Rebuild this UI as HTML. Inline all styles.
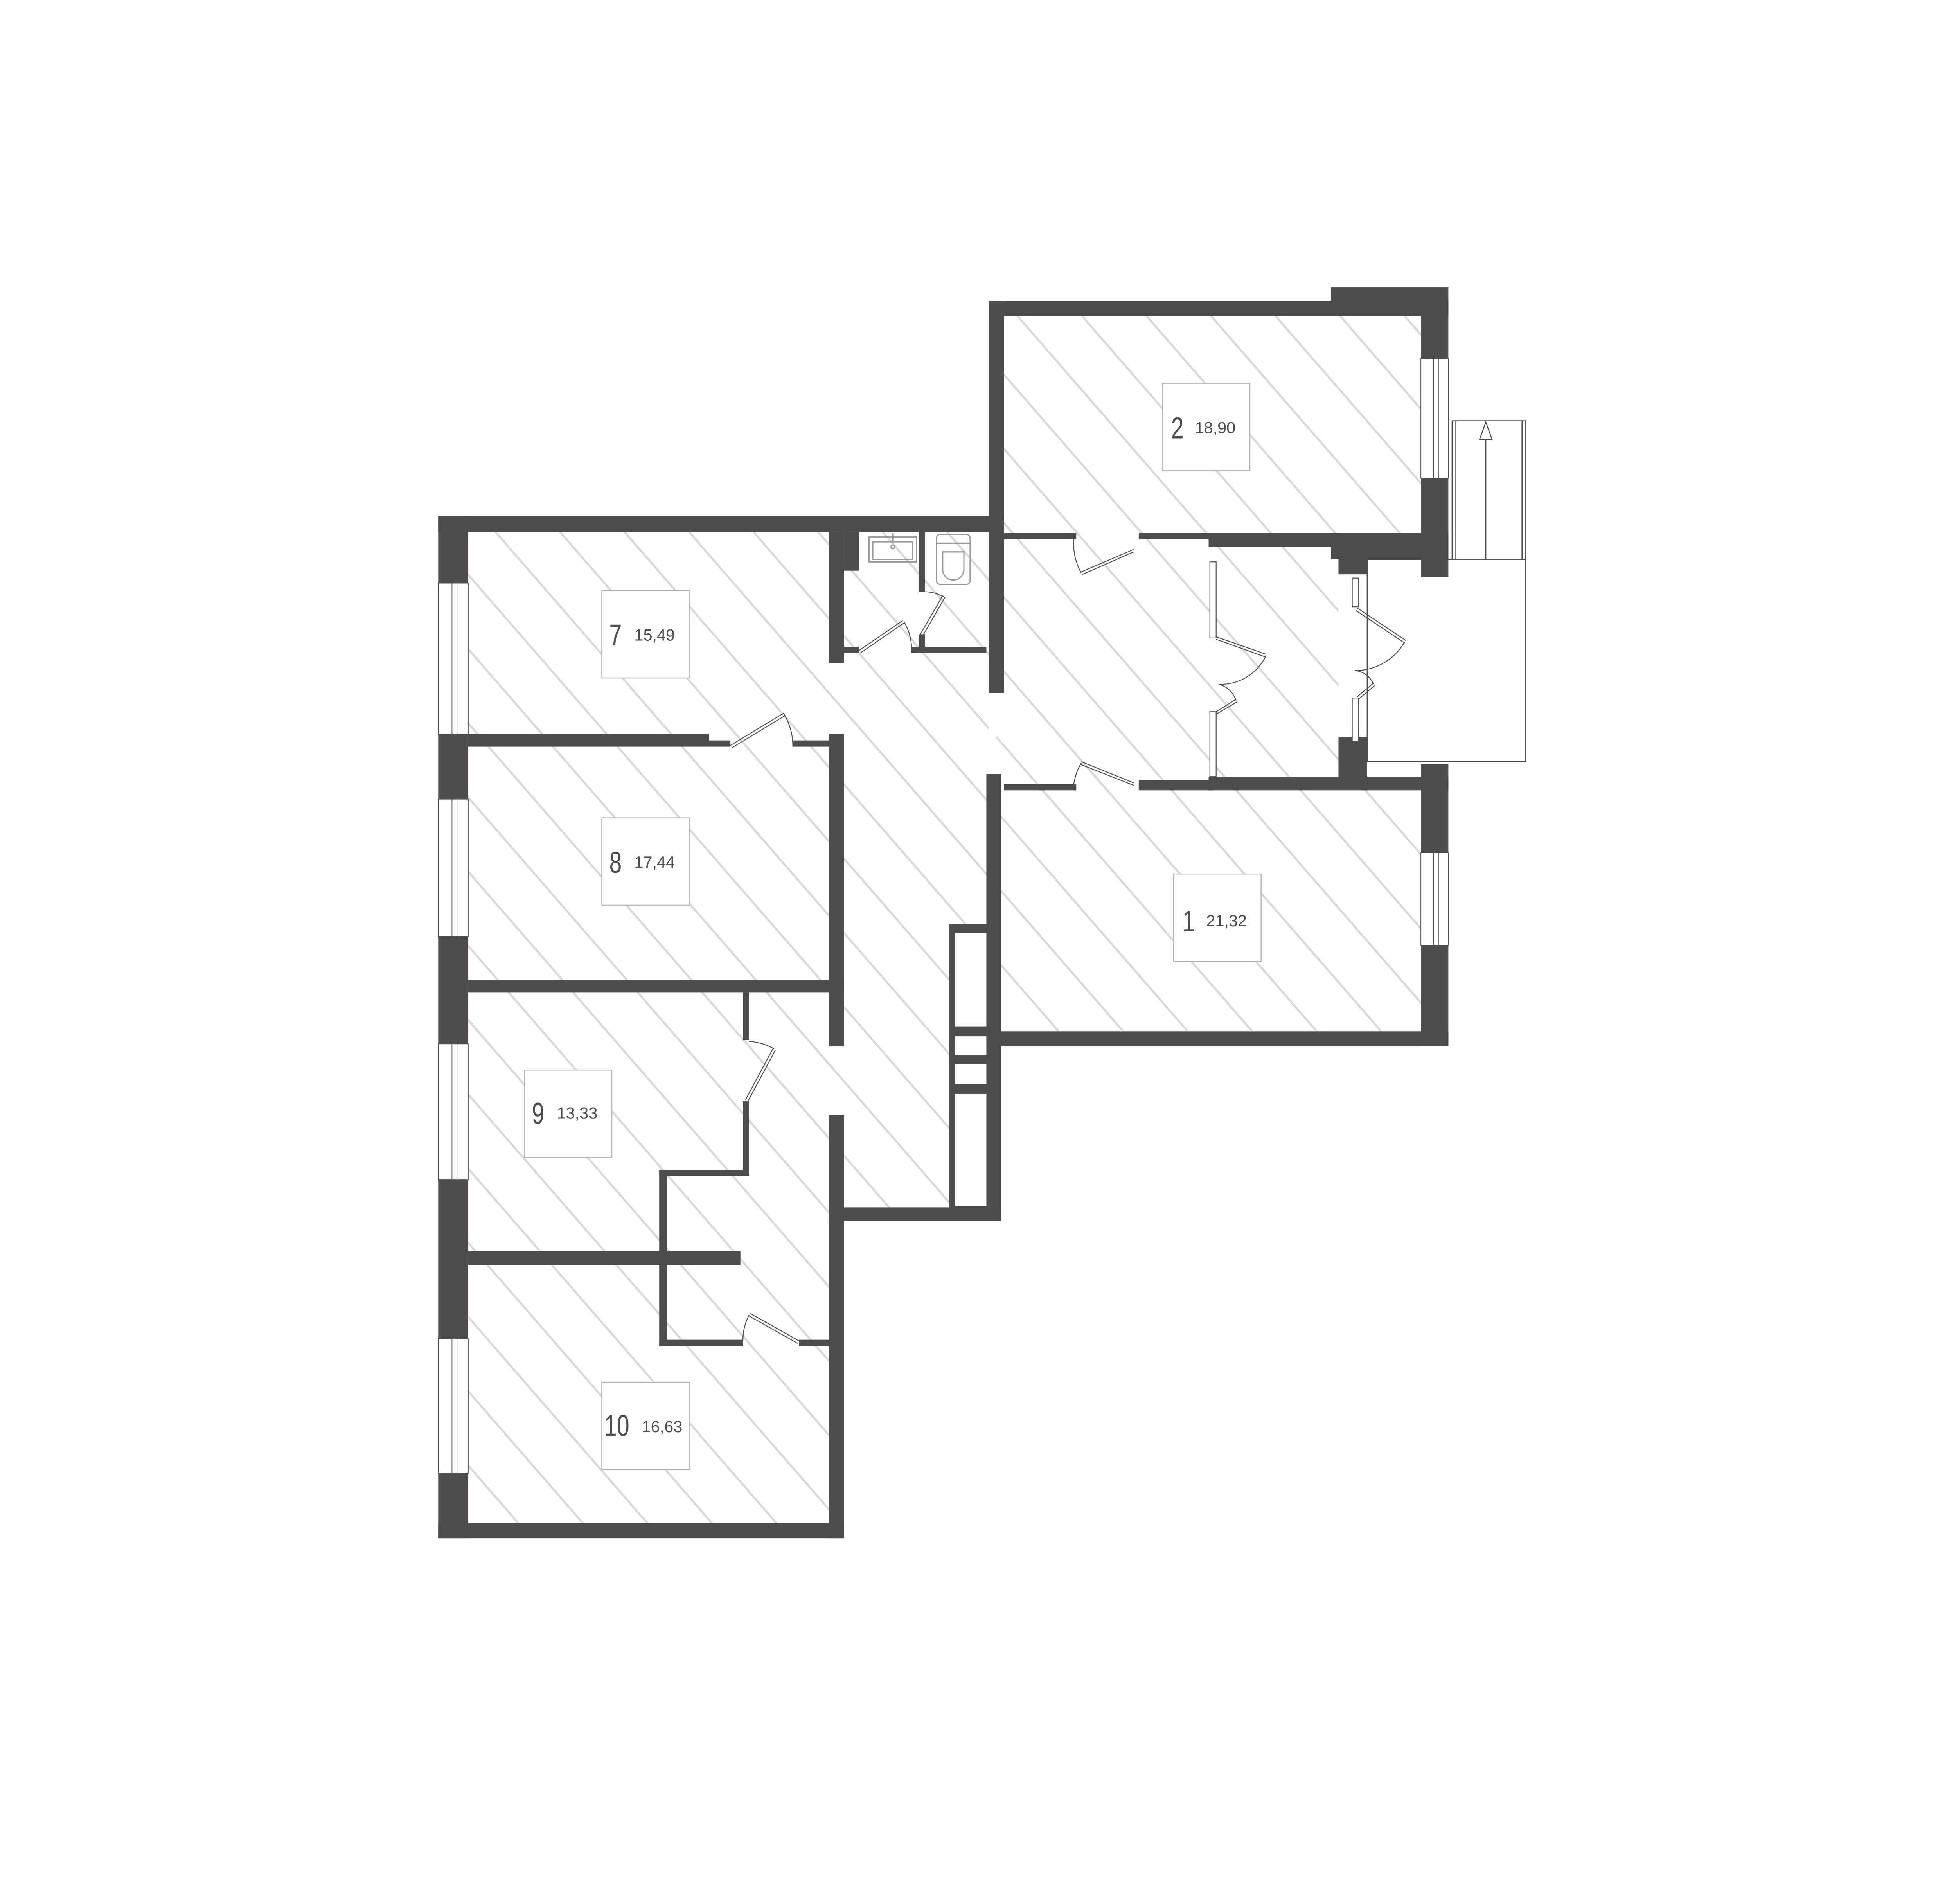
<!DOCTYPE html>
<html><head><meta charset="utf-8"><style>
html,body{margin:0;padding:0;background:#fff;}
svg{display:block;}
text{font-family:"Liberation Sans",sans-serif;fill:#4d4c4a;}
</style></head><body>
<svg width="5213" height="4867" viewBox="0 0 1633.3 1524.9" preserveAspectRatio="none" xmlns="http://www.w3.org/2000/svg">
<defs>
<pattern id="h" patternUnits="userSpaceOnUse" width="60" height="39" patternTransform="rotate(49)">
<line x1="0" y1="19" x2="60" y2="19" stroke="#d9d9d9" stroke-width="1.7"/>
</pattern>
<clipPath id="c">
<rect x="375" y="426" width="289" height="794"/>
<rect x="664" y="426" width="128" height="541"/>
<rect x="798" y="253" width="340" height="185"/>
<rect x="798" y="438" width="274" height="190"/>
<rect x="798" y="628" width="340" height="198"/>
</clipPath>
</defs>
<rect width="1633.3" height="1524.9" fill="#fff"/>
<rect x="0" y="0" width="1633.3" height="1524.9" fill="url(#h)" clip-path="url(#c)"/>

<g fill="none" stroke="#4d4c4a" stroke-width="0.8">
<rect x="1163" y="337" width="59" height="111"/>
<line x1="1166" y1="337" x2="1166" y2="448"/>
<line x1="1219" y1="337" x2="1219" y2="448"/>
<line x1="1190" y1="448" x2="1190" y2="352"/>
<polygon points="1185,352 1195,352 1190,338" fill="#fff"/>
<rect x="1095" y="448" width="127" height="162"/>
</g>

<g fill="#4d4c4a">
<rect x="351" y="413" width="453" height="13"/>
<rect x="351" y="413" width="24" height="54"/>
<rect x="351" y="588" width="24" height="52"/>
<rect x="351" y="750" width="24" height="86"/>
<rect x="351" y="945" width="24" height="127"/>
<rect x="351" y="1180" width="24" height="52"/>
<rect x="351" y="1220" width="325" height="12"/>
<rect x="664" y="893" width="12" height="339"/>
<rect x="664" y="967" width="138" height="11"/>
<rect x="790" y="620" width="12" height="358"/>
<rect x="375" y="588" width="193" height="10"/>
<rect x="568" y="593" width="17" height="5"/>
<rect x="635" y="593" width="29" height="5"/>
<rect x="664" y="588" width="12" height="250"/>
<rect x="375" y="785" width="301" height="10"/>
<rect x="595" y="795" width="5" height="38"/>
<rect x="595" y="882" width="5" height="60"/>
<rect x="528" y="937" width="72" height="5"/>
<rect x="528" y="937" width="6" height="141"/>
<rect x="528" y="1073" width="67" height="5"/>
<rect x="640" y="1073" width="24" height="5"/>
<rect x="375" y="1002" width="218" height="11"/>
<rect x="664" y="426" width="12" height="105"/>
<rect x="676" y="426" width="12" height="31"/>
<rect x="676" y="453" width="12" height="4"/>
<rect x="676" y="518" width="12" height="5"/>
<rect x="730" y="518" width="60" height="5"/>
<rect x="736" y="426" width="5" height="48"/>
<rect x="736" y="508" width="5" height="15"/>
<rect x="792" y="241" width="12" height="314"/>
<rect x="792" y="241" width="368" height="12"/>
<rect x="1066" y="230" width="94" height="12"/>
<rect x="1138" y="241" width="22" height="46"/>
<rect x="1138" y="383" width="22" height="79"/>
<rect x="804" y="427" width="58" height="5"/>
<rect x="912" y="427" width="56" height="5"/>
<rect x="968" y="427" width="104" height="11"/>
<rect x="1066" y="427" width="94" height="21"/>
<rect x="1072" y="437" width="23" height="23"/>
<rect x="1072" y="590" width="23" height="36"/>
<rect x="968" y="622" width="192" height="11"/>
<rect x="804" y="628" width="58" height="5"/>
<rect x="912" y="625" width="60" height="8"/>
<rect x="1138" y="612" width="22" height="71"/>
<rect x="1138" y="757" width="22" height="81"/>
<rect x="790" y="826" width="370" height="12"/>
<rect x="760" y="740" width="32" height="238"/>
</g>
<g fill="#fff">
<rect x="765" y="747" width="25" height="75"/>
<rect x="765" y="830" width="25" height="15"/>
<rect x="765" y="852" width="25" height="16"/>
<rect x="765" y="876" width="25" height="90"/>
</g>

<g fill="#fff" stroke="#4d4c4a" stroke-width="0.6">
<rect x="351" y="467" width="24" height="121"/>
<rect x="351" y="640" width="24" height="110"/>
<rect x="351" y="836" width="24" height="109"/>
<rect x="351" y="1072" width="24" height="108"/>
<rect x="1138" y="287" width="22" height="96"/>
<rect x="1138" y="683" width="22" height="74"/>
</g>
<g stroke="#4d4c4a" stroke-width="0.6">
<line x1="362" y1="467" x2="362" y2="588"/><line x1="366" y1="467" x2="366" y2="588"/>
<line x1="362" y1="640" x2="362" y2="750"/><line x1="366" y1="640" x2="366" y2="750"/>
<line x1="362" y1="836" x2="362" y2="945"/><line x1="366" y1="836" x2="366" y2="945"/>
<line x1="362" y1="1072" x2="362" y2="1180"/><line x1="366" y1="1072" x2="366" y2="1180"/>
<line x1="1148" y1="287" x2="1148" y2="383"/><line x1="1152" y1="287" x2="1152" y2="383"/>
<line x1="1148" y1="683" x2="1148" y2="757"/><line x1="1152" y1="683" x2="1152" y2="757"/>
</g>

<g fill="#fff" stroke="#4d4c4a" stroke-width="0.7">
<rect x="969" y="450" width="5" height="61"/>
<rect x="969" y="570" width="5" height="52"/>
<rect x="1083" y="463" width="5" height="23"/>
<rect x="1083" y="559" width="5" height="35"/>
</g>

<g fill="none" stroke="#4d4c4a" stroke-width="0.7">
<path d="M585,597 L628,571 M586,599 L629,573"/><path d="M628,572 A50,50 0 0 1 635,598"/>
<path d="M688,521 L723,497 M689,523 L724,499"/><path d="M724,498 A42,42 0 0 1 730,522"/>
<path d="M736,510 L755,477 M738,511 L757,478"/><path d="M756,478 A34,34 0 0 0 737,474"/>
<path d="M908,440 L866,458 M908,442 L867,460"/><path d="M866,459 A48,48 0 0 1 860,432"/>
<path d="M908,627 L866,610 M908,629 L865,612"/><path d="M866,611 A48,48 0 0 0 860,628"/>
<path d="M974,510 L1014,524 M974,512 L1013,526"/><path d="M1014,525 A40,40 0 0 1 976,548"/>
<path d="M974,570 L990,560 M974,572 L991,562"/><path d="M990,561 A20,20 0 0 0 976,548"/>
<path d="M1087,487 L1126,513 M1086,489 L1125,515"/><path d="M1125,514 A45,45 0 0 1 1085,537"/>
<path d="M1087,558 L1100,547 M1088,560 L1101,549"/><path d="M1100,548 A18,18 0 0 0 1085,537"/>
<path d="M597,881 L619,840 M599,882 L621,841"/><path d="M620,840 A47,47 0 0 0 600,834"/>
<path d="M640,1074 L601,1052 M639,1076 L600,1054"/><path d="M600,1053 A45,45 0 0 0 595,1074"/>
</g>

<g fill="none" stroke="#9a9a9a" stroke-width="1">
<rect x="696" y="430" width="38" height="20"/>
<rect x="699" y="434" width="32" height="14"/>
<line x1="715" y1="427" x2="715" y2="434"/><line x1="712" y1="430" x2="718" y2="430"/>
<circle cx="715" cy="438" r="1.5"/>
<rect x="750" y="428" width="27" height="40" rx="3"/>
<line x1="750" y1="435" x2="777" y2="435"/>
<path d="M755,442 h17 v14 a8.5,8.5 0 0 1 -17,0 z"/>
</g>

<g fill="#fff" stroke="#b5b5b5" stroke-width="0.8">
<rect x="931" y="307" width="70" height="70"/>
<rect x="482" y="473" width="70" height="70"/>
<rect x="482" y="655" width="70" height="70"/>
<rect x="940" y="700" width="70" height="70"/>
<rect x="420" y="857" width="70" height="70"/>
<rect x="482" y="1107" width="70" height="70"/>
</g>
<g font-size="24">
<text x="938" y="351" transform="translate(938 0) scale(0.75 1) translate(-938 0)">2</text>
<text x="488" y="517" transform="translate(488 0) scale(0.75 1) translate(-488 0)">7</text>
<text x="488" y="699" transform="translate(488 0) scale(0.75 1) translate(-488 0)">8</text>
<text x="947" y="746" transform="translate(947 0) scale(0.75 1) translate(-947 0)">1</text>
<text x="426" y="900" transform="translate(426 0) scale(0.75 1) translate(-426 0)">9</text>
<text x="484" y="1150" transform="translate(484 0) scale(0.75 1) translate(-484 0)">10</text>
</g>
<g font-size="13">
<text x="957" y="347">18,90</text>
<text x="508" y="513">15,49</text>
<text x="508" y="695">17,44</text>
<text x="966" y="742">21,32</text>
<text x="446" y="896">13,33</text>
<text x="514" y="1147">16,63</text>
</g>
</svg>
</body></html>
